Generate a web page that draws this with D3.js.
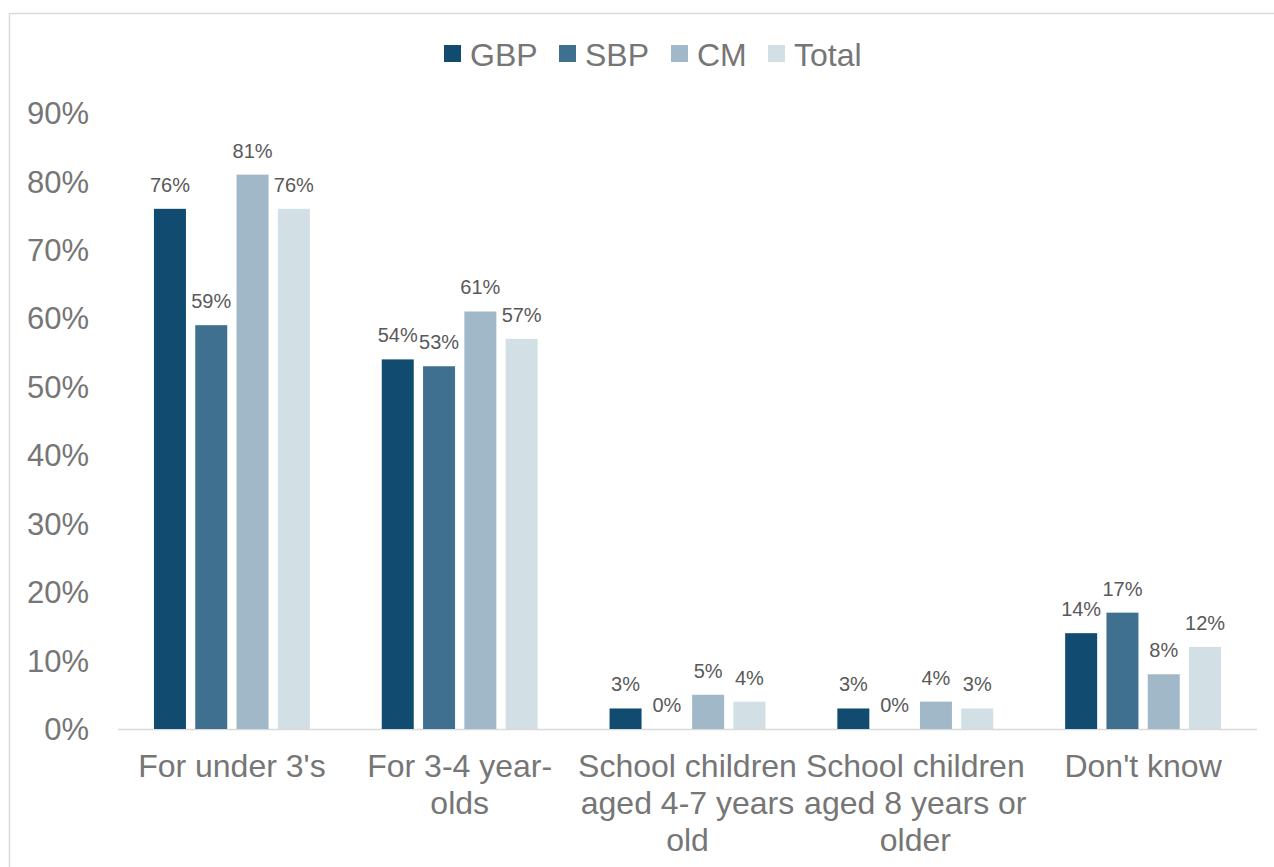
<!DOCTYPE html>
<html><head><meta charset="utf-8">
<script src="https://cdn.jsdelivr.net/npm/d3@7"></script>
<style>body{margin:0;background:#fff}svg{display:block;font-family:"Liberation Sans",Arial,sans-serif}</style>
</head><body>
<svg id="c" width="1274" height="867"></svg>
<script>
const categories = [["For under 3's"],["For 3-4 year-","olds"],["School children","aged 4-7 years","old"],["School children","aged 8 years or","older"],["Don't know"]];
const seriesNames = ["GBP","SBP","CM","Total"];
const GBP = [76,54,3,3,14];
const SBP = [59,53,0,0,17];
const CM = [81,61,5,4,8];
const Total = [76,57,4,3,12];
const yTicks = [0,10,20,30,40,50,60,70,80,90];
const colors = ["#114c70","#3f7090","#a1b8c8","#d2dfe5"];
const seriesValues = [GBP,SBP,CM,Total];

(function(){
const svg = d3.select("#c");
svg.append("rect").attr("x",9.5).attr("y",13.5).attr("width",1300).attr("height",900)
  .attr("fill","none").attr("stroke","#d9d9d9").attr("stroke-width",1.5);

const pl=118, pr=1257, pt=113, pb=729;
const x = d3.scaleBand().domain(d3.range(categories.length)).range([pl,pr]);
const y = d3.scaleLinear().domain([0,90]).range([pb,pt]);
const step = 41.3, bw = 32;

yTicks.forEach(t=>{
  svg.append("text").attr("x",89).attr("y",y(t)).attr("dy","0.36em").attr("text-anchor","end")
    .attr("font-size",31).attr("fill","#767676").text(t+"%");
});
svg.append("line").attr("x1",pl).attr("x2",pr).attr("y1",pb+0.5).attr("y2",pb+0.5)
  .attr("stroke","#d9d9d9").attr("stroke-width",1.5);

seriesValues.forEach((vals,si)=>{
  vals.forEach((v,ci)=>{
    const cx = x(ci)+x.bandwidth()/2;
    const bx = cx - (3*step+bw)/2 + si*step;
    svg.append("rect").attr("x",bx).attr("y",y(v)).attr("width",bw).attr("height",y(0)-y(v)).attr("fill",colors[si]);
    svg.append("text").attr("x",bx+bw/2).attr("y",y(v)-17).attr("text-anchor","middle")
      .attr("font-size",20).attr("fill","#595959").text(v+"%");
  });
});

categories.forEach((lines,ci)=>{
  const cx = x(ci)+x.bandwidth()/2;
  lines.forEach((ln,li)=>{
    svg.append("text").attr("x",cx).attr("y",765+li*37).attr("dy","0.36em").attr("text-anchor","middle")
      .attr("font-size",32).attr("fill","#767676").text(ln);
  });
});

const legX = [444,559,671,768];
seriesNames.forEach((n,i)=>{
  svg.append("rect").attr("x",legX[i]).attr("y",45).attr("width",17).attr("height",17).attr("fill",colors[i]);
  svg.append("text").attr("x",legX[i]+26).attr("y",54).attr("dy","0.36em").attr("font-size",32)
    .attr("fill","#767676").text(n);
});
})();
</script>
</body></html>
